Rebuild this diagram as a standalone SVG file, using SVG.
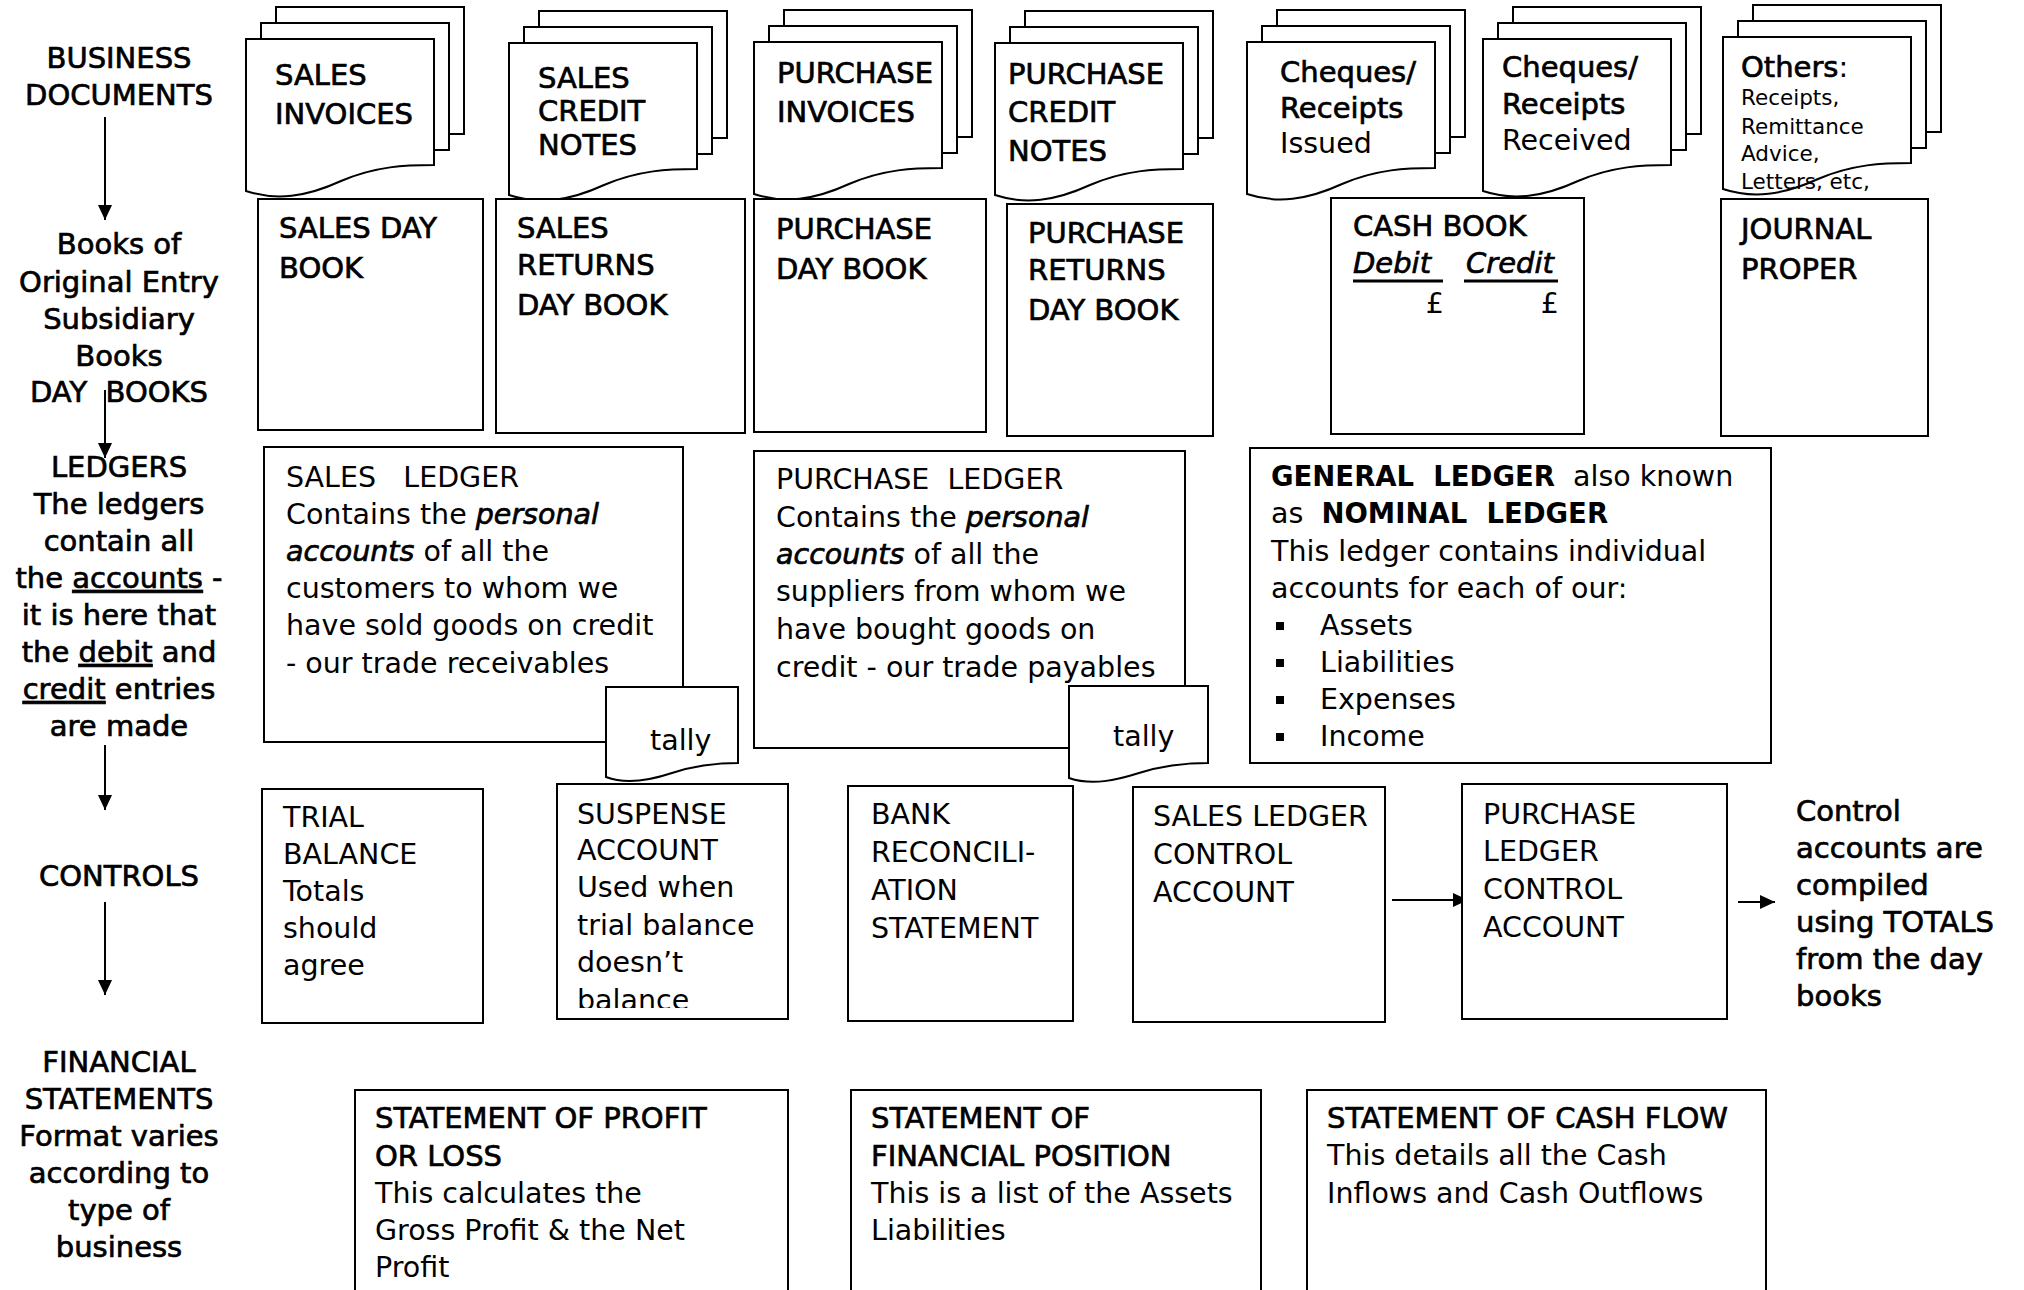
<svg xmlns="http://www.w3.org/2000/svg" xmlns:xlink="http://www.w3.org/1999/xlink" width="2024" height="1290" viewBox="0 0 2024 1290">
<style>
text{font-family:'DejaVu Sans','Liberation Sans',sans-serif;fill:#000;}
.t{font-size:28.5px;}
.sb{font-size:29px;stroke:#000;stroke-width:0.7px;}
.lbl{font-size:29px;stroke:#000;stroke-width:0.7px;text-anchor:middle;}
.b{font-size:27.5px;font-weight:bold;}
.sm{font-size:21.5px;}
.i{font-style:italic;stroke:#000;stroke-width:0.7px;}
.n{stroke:none;}
.u{text-decoration:underline;}
.box{fill:#fff;stroke:#000;stroke-width:2;}
.ln{fill:none;stroke:#000;stroke-width:2;}
</style>
<defs>
<marker id="ah" markerUnits="userSpaceOnUse" markerWidth="16" markerHeight="16" viewBox="0 0 16 16" refX="15" refY="8" orient="auto">
<path d="M0,1 L15,8 L0,15 Z" fill="#000"/>
</marker>
<g id="stack">
<rect class="box" x="30" y="-32" width="188" height="127"/>
<rect class="box" x="15" y="-16" width="188" height="127"/>
<path class="box" d="M0,0 H188 V126 C160,126 130,127 95,142 C60,158 30,162 0,152 Z"/>
</g>
<clipPath id="clipS"><rect x="557" y="784" width="231" height="224"/></clipPath>
</defs>
<rect width="2024" height="1290" fill="#fff"/>

<g id="labels">
<text class="lbl" x="119" y="68">BUSINESS</text>
<text class="lbl" x="119" y="105">DOCUMENTS</text>
<text class="lbl" x="119" y="254">Books of</text>
<text class="lbl" x="119" y="292">Original Entry</text>
<text class="lbl" x="119" y="329">Subsidiary</text>
<text class="lbl" x="119" y="366">Books</text>
<text class="lbl" x="119" y="402">DAY&#160; BOOKS</text>
<text class="lbl" x="119" y="477">LEDGERS</text>
<text class="lbl" x="119" y="514">The ledgers</text>
<text class="lbl" x="119" y="551">contain all</text>
<text class="lbl" x="119" y="588">the <tspan class="u">accounts</tspan> -</text>
<text class="lbl" x="119" y="625">it is here that</text>
<text class="lbl" x="119" y="662">the <tspan class="u">debit</tspan> and</text>
<text class="lbl" x="119" y="699"><tspan class="u">credit</tspan> entries</text>
<text class="lbl" x="119" y="736">are made</text>
<text class="lbl" x="119" y="886">CONTROLS</text>
<text class="lbl" x="119" y="1072">FINANCIAL</text>
<text class="lbl" x="119" y="1109">STATEMENTS</text>
<text class="lbl" x="119" y="1146">Format varies</text>
<text class="lbl" x="119" y="1183">according to</text>
<text class="lbl" x="119" y="1220">type of</text>
<text class="lbl" x="119" y="1257">business</text>
</g>

<g id="connectors">
<line class="ln" x1="105" y1="117" x2="105" y2="220" marker-end="url(#ah)"/>
<line class="ln" x1="105" y1="390" x2="105" y2="458" marker-end="url(#ah)"/>
<line class="ln" x1="105" y1="745" x2="105" y2="810" marker-end="url(#ah)"/>
<line class="ln" x1="105" y1="902" x2="105" y2="995" marker-end="url(#ah)"/>
<line class="ln" x1="1392" y1="900" x2="1468" y2="900" marker-end="url(#ah)"/>
<line class="ln" x1="1738" y1="902" x2="1775" y2="902" marker-end="url(#ah)"/>
</g>

<g id="doc-sales-invoices">
<use xlink:href="#stack" x="246" y="39"/>
<text class="sb" x="275" y="85">SALES</text>
<text class="sb" x="275" y="124">INVOICES</text>
</g>
<g id="doc-sales-credit-notes">
<use xlink:href="#stack" x="509" y="43"/>
<text class="sb" x="538" y="88">SALES</text>
<text class="sb" x="538" y="121">CREDIT</text>
<text class="sb" x="538" y="155">NOTES</text>
</g>
<g id="doc-purchase-invoices">
<use xlink:href="#stack" x="754" y="42"/>
<text class="sb" x="777" y="83">PURCHASE</text>
<text class="sb" x="777" y="122">INVOICES</text>
</g>
<g id="doc-purchase-credit-notes">
<use xlink:href="#stack" x="995" y="43"/>
<text class="sb" x="1008" y="84">PURCHASE</text>
<text class="sb" x="1008" y="122">CREDIT</text>
<text class="sb" x="1008" y="161">NOTES</text>
</g>
<g id="doc-cheques-issued">
<use xlink:href="#stack" x="1247" y="42"/>
<text class="sb" x="1280" y="82">Cheques/</text>
<text class="sb" x="1280" y="118">Receipts</text>
<text class="t" x="1280" y="153">Issued</text>
</g>
<g id="doc-cheques-received">
<use xlink:href="#stack" x="1483" y="39"/>
<text class="sb" x="1502" y="77">Cheques/</text>
<text class="sb" x="1502" y="114">Receipts</text>
<text class="t" x="1502" y="150">Received</text>
</g>
<g id="doc-others">
<use xlink:href="#stack" x="1723" y="37"/>
<text class="sb" x="1741" y="77">Others<tspan class="n">:</tspan></text>
<text class="sm" x="1741" y="105">Receipts,</text>
<text class="sm" x="1741" y="134">Remittance</text>
<text class="sm" x="1741" y="161">Advice,</text>
<text class="sm" x="1741" y="189">Letters, etc,</text>
</g>

<g id="sales-day-book">
<rect class="box" x="258" y="199" width="225" height="231"/>
<text class="sb" x="279" y="238">SALES DAY</text>
<text class="sb" x="279" y="278">BOOK</text>
</g>
<g id="sales-returns-day-book">
<rect class="box" x="496" y="199" width="249" height="234"/>
<text class="sb" x="517" y="238">SALES</text>
<text class="sb" x="517" y="275">RETURNS</text>
<text class="sb" x="517" y="315">DAY BOOK</text>
</g>
<g id="purchase-day-book">
<rect class="box" x="754" y="199" width="232" height="233"/>
<text class="sb" x="776" y="239">PURCHASE</text>
<text class="sb" x="776" y="279">DAY BOOK</text>
</g>
<g id="purchase-returns-day-book">
<rect class="box" x="1007" y="204" width="206" height="232"/>
<text class="sb" x="1028" y="243">PURCHASE</text>
<text class="sb" x="1028" y="280">RETURNS</text>
<text class="sb" x="1028" y="320">DAY BOOK</text>
</g>
<g id="cash-book">
<rect class="box" x="1331" y="198" width="253" height="236"/>
<text class="sb" x="1353" y="236">CASH BOOK</text>
<text class="sb" x="1353" y="273" font-style="italic">Debit</text>
<text class="sb" x="1466" y="273" font-style="italic">Credit</text>
<line x1="1353" y1="281" x2="1443" y2="281" stroke="#000" stroke-width="3"/>
<line x1="1464" y1="281" x2="1558" y2="281" stroke="#000" stroke-width="3"/>
<text class="t" x="1444" y="313" text-anchor="end">£</text>
<text class="t" x="1559" y="313" text-anchor="end">£</text>
</g>
<g id="journal-proper">
<rect class="box" x="1721" y="199" width="207" height="237"/>
<text class="sb" x="1741" y="239">JOURNAL</text>
<text class="sb" x="1741" y="279">PROPER</text>
</g>

<g id="sales-ledger">
<rect class="box" x="264" y="447" width="419" height="295"/>
<text class="t" x="286" y="487">SALES&#160;&#160; LEDGER</text>
<text class="t" x="286" y="524">Contains the <tspan class="i">personal</tspan></text>
<text class="t" x="286" y="561"><tspan class="i">accounts</tspan> of all the</text>
<text class="t" x="286" y="598">customers to whom we</text>
<text class="t" x="286" y="635">have sold goods on credit</text>
<text class="t" x="286" y="673">- our trade receivables</text>
</g>
<g id="tally-sales">
<path class="box" d="M606,687 H738 V763 C717,763 693,766 672,773 C651,780 627,785 606,777 Z"/>
<text class="t" x="650" y="750">tally</text>
</g>
<g id="purchase-ledger">
<rect class="box" x="754" y="451" width="431" height="297"/>
<text class="t" x="776" y="489">PURCHASE&#160; LEDGER</text>
<text class="t" x="776" y="527">Contains the <tspan class="i">personal</tspan></text>
<text class="t" x="776" y="564"><tspan class="i">accounts</tspan> of all the</text>
<text class="t" x="776" y="601">suppliers from whom we</text>
<text class="t" x="776" y="639">have bought goods on</text>
<text class="t" x="776" y="677">credit - our trade payables</text>
</g>
<g id="tally-purchase">
<path class="box" d="M1069,686 H1208 V763 C1186,763 1161,766 1139,773 C1117,780 1092,786 1069,778 Z"/>
<text class="t" x="1113" y="746">tally</text>
</g>
<g id="general-ledger">
<rect class="box" x="1250" y="448" width="521" height="315"/>
<text class="t" x="1271" y="486"><tspan class="b">GENERAL&#160; LEDGER</tspan>&#160; also known</text>
<text class="t" x="1271" y="523">as&#160; <tspan class="b">NOMINAL&#160; LEDGER</tspan></text>
<text class="t" x="1271" y="561">This ledger contains individual</text>
<text class="t" x="1271" y="598">accounts for each of our:</text>
<rect x="1276" y="622" width="8" height="8"/>
<rect x="1276" y="659" width="8" height="8"/>
<rect x="1276" y="696" width="8" height="8"/>
<rect x="1276" y="733" width="8" height="8"/>
<text class="t" x="1320" y="635">Assets</text>
<text class="t" x="1320" y="672">Liabilities</text>
<text class="t" x="1320" y="709">Expenses</text>
<text class="t" x="1320" y="746">Income</text>
</g>

<g id="trial-balance">
<rect class="box" x="262" y="789" width="221" height="234"/>
<text class="t" x="283" y="827">TRIAL</text>
<text class="t" x="283" y="864">BALANCE</text>
<text class="t" x="283" y="901">Totals</text>
<text class="t" x="283" y="938">should</text>
<text class="t" x="283" y="975">agree</text>
</g>
<g id="suspense-account">
<rect class="box" x="557" y="784" width="231" height="235"/>
<g clip-path="url(#clipS)">
<text class="t" x="577" y="824">SUSPENSE</text>
<text class="t" x="577" y="860">ACCOUNT</text>
<text class="t" x="577" y="897">Used when</text>
<text class="t" x="577" y="935">trial balance</text>
<text class="t" x="577" y="972">doesn’t</text>
<text class="t" x="577" y="1010">balance</text>
</g>
</g>
<g id="bank-reconciliation">
<rect class="box" x="848" y="786" width="225" height="235"/>
<text class="t" x="871" y="824">BANK</text>
<text class="t" x="871" y="862">RECONCILI-</text>
<text class="t" x="871" y="900">ATION</text>
<text class="t" x="871" y="938">STATEMENT</text>
</g>
<g id="sales-ledger-control">
<rect class="box" x="1133" y="787" width="252" height="235"/>
<text class="t" x="1153" y="826">SALES LEDGER</text>
<text class="t" x="1153" y="864">CONTROL</text>
<text class="t" x="1153" y="902">ACCOUNT</text>
</g>
<g id="purchase-ledger-control">
<rect class="box" x="1462" y="784" width="265" height="235"/>
<text class="t" x="1483" y="824">PURCHASE</text>
<text class="t" x="1483" y="861">LEDGER</text>
<text class="t" x="1483" y="899">CONTROL</text>
<text class="t" x="1483" y="937">ACCOUNT</text>
</g>
<g id="control-note">
<text class="sb" x="1796" y="821">Control</text>
<text class="sb" x="1796" y="858">accounts are</text>
<text class="sb" x="1796" y="895">compiled</text>
<text class="sb" x="1796" y="932">using TOTALS</text>
<text class="sb" x="1796" y="969">from the day</text>
<text class="sb" x="1796" y="1006">books</text>
</g>

<g id="statement-profit-loss">
<rect class="box" x="355" y="1090" width="433" height="230"/>
<text class="sb" x="375" y="1128">STATEMENT OF PROFIT</text>
<text class="sb" x="375" y="1166">OR LOSS</text>
<text class="t" x="375" y="1203">This calculates the</text>
<text class="t" x="375" y="1240">Gross Profit &amp; the Net</text>
<text class="t" x="375" y="1277">Profit</text>
</g>
<g id="statement-financial-position">
<rect class="box" x="851" y="1090" width="410" height="230"/>
<text class="sb" x="871" y="1128">STATEMENT OF</text>
<text class="sb" x="871" y="1166">FINANCIAL POSITION</text>
<text class="t" x="871" y="1203">This is a list of the Assets</text>
<text class="t" x="871" y="1240">Liabilities</text>
</g>
<g id="statement-cash-flow">
<rect class="box" x="1307" y="1090" width="459" height="230"/>
<text class="sb" x="1327" y="1128">STATEMENT OF CASH FLOW</text>
<text class="t" x="1327" y="1165">This details all the Cash</text>
<text class="t" x="1327" y="1203">Inflows and Cash Outflows</text>
</g>
</svg>
